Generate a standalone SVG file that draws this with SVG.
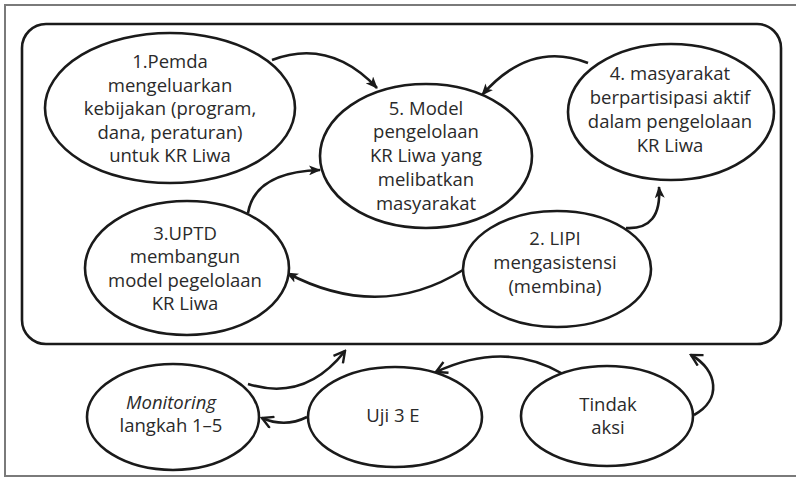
<svg xmlns="http://www.w3.org/2000/svg" width="796" height="477" viewBox="0 0 796 477">
  <style>
    .frame { fill: none; stroke: #7a7a7a; stroke-width: 2; }
    .panel { fill: none; stroke: #1a1a1a; stroke-width: 2.6; }
    .node ellipse { fill: #ffffff; stroke: #1a1a1a; stroke-width: 2.6; }
    .node text { font-family: "Open Sans", "Noto Sans", "DejaVu Sans", sans-serif; font-size: 18.5px; fill: #2a2a2a; text-anchor: middle; }
    .link { fill: none; stroke: #1a1a1a; stroke-width: 2.6; }
    .solid { marker-end: url(#headSolid); }
    .open { marker-end: url(#headOpen); }
  </style>
  <defs>
    <marker id="headSolid" viewBox="0 0 12 10" refX="11" refY="5" markerWidth="12" markerHeight="10" markerUnits="userSpaceOnUse" orient="auto">
      <path d="M0,0 L12,5 L0,10 L3,5 Z" fill="#1a1a1a"/>
    </marker>
    <marker id="headOpen" viewBox="0 0 14 14" refX="12" refY="7" markerWidth="14" markerHeight="14" markerUnits="userSpaceOnUse" orient="auto">
      <path d="M1,1 L12,7 L1,13" fill="none" stroke="#1a1a1a" stroke-width="2.4"/>
    </marker>
  </defs>

  <!-- outer frame -->
  <path class="frame" d="M800,5 L5,5 L5,476 L800,476"/>

  <!-- inner rounded panel -->
  <rect class="panel" x="22" y="24" width="759" height="320" rx="24" ry="24"/>

  <g id="connectors">
    <path class="link solid" d="M272,60 Q330,38 377,88"/>
    <path class="link solid" d="M248,213 Q255,172 320,170"/>
    <path class="link solid" d="M588,63 Q530,40 482,95"/>
    <path class="link solid" d="M626,228 Q662,230 659,187"/>
    <path class="link solid" d="M463,270 Q380,322 287,273"/>
    <path class="link open" d="M248,384 Q305,402 345,351"/>
    <path class="link open" d="M307,417 Q285,428 262,418"/>
    <path class="link open" d="M563,374 Q505,340 436,372"/>
    <path class="link open" d="M694,415 C722,400 718,370 691,355"/>
  </g>

  <g id="node1" class="node">
    <ellipse cx="170" cy="108" rx="125" ry="75"/>
    <text x="170" y="68">1.Pemda</text>
    <text x="170" y="92">mengeluarkan</text>
    <text x="170" y="115">kebijakan (program,</text>
    <text x="170" y="139">dana, peraturan)</text>
    <text x="170" y="162">untuk KR Liwa</text>
  </g>

  <g id="node5" class="node">
    <ellipse cx="426" cy="156" rx="106" ry="72"/>
    <text x="426" y="115">5. Model</text>
    <text x="426" y="138">pengelolaan</text>
    <text x="426" y="162">KR Liwa yang</text>
    <text x="426" y="186">melibatkan</text>
    <text x="426" y="210">masyarakat</text>
  </g>

  <g id="node4" class="node">
    <ellipse cx="671" cy="112" rx="103" ry="68"/>
    <text x="670" y="80">4. masyarakat</text>
    <text x="670" y="104">berpartisipasi aktif</text>
    <text x="670" y="128">dalam pengelolaan</text>
    <text x="670" y="152">KR Liwa</text>
  </g>

  <g id="node3" class="node">
    <ellipse cx="187" cy="268" rx="102" ry="67"/>
    <text x="185" y="240">3.UPTD</text>
    <text x="185" y="263">membangun</text>
    <text x="185" y="287">model pegelolaan</text>
    <text x="185" y="310">KR Liwa</text>
  </g>

  <g id="node2" class="node">
    <ellipse cx="557" cy="269" rx="94" ry="58"/>
    <text x="555" y="245">2. LIPI</text>
    <text x="555" y="269">mengasistensi</text>
    <text x="555" y="293">(membina)</text>
  </g>

  <g id="monitoring" class="node">
    <ellipse cx="173" cy="417" rx="86" ry="53"/>
    <text x="171" y="409" font-style="italic">Monitoring</text>
    <text x="171" y="432">langkah 1–5</text>
  </g>

  <g id="uji3e" class="node">
    <ellipse cx="395" cy="417" rx="87" ry="50"/>
    <text x="393" y="422">Uji 3 E</text>
  </g>

  <g id="tindakAksi" class="node">
    <ellipse cx="607" cy="416" rx="86" ry="50"/>
    <text x="608" y="411">Tindak</text>
    <text x="608" y="434">aksi</text>
  </g>
</svg>
